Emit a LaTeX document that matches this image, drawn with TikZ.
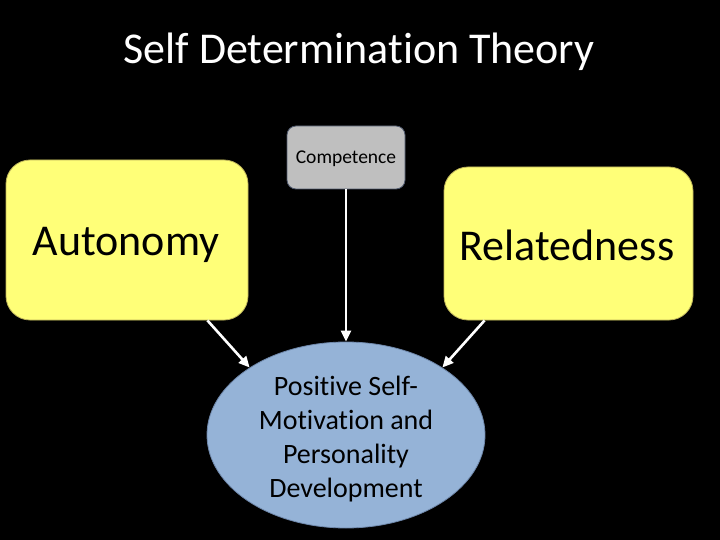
\documentclass[tikz,border=0pt]{standalone}
\usepackage{fontspec}
\setmainfont{Carlito}[Ligatures=NoCommon]
\usetikzlibrary{shapes.geometric,arrows.meta,calc}
\definecolor{boxyellow}{RGB}{255,255,120}
\definecolor{yellowedge}{RGB}{190,180,90}
\definecolor{boxgray}{RGB}{191,191,191}
\definecolor{grayedge}{RGB}{80,90,110}
\definecolor{ellblue}{RGB}{149,179,215}
\definecolor{blueedge}{RGB}{110,135,170}
\tikzset{
  bigbox/.style={draw=yellowedge, line width=0.8pt, fill=boxyellow, rounded corners=24pt, inner sep=0pt, text=black},
  bigtext/.style={font=\fontsize{44}{52}\selectfont, text=black, inner sep=0pt},
  smallbox/.style={draw=grayedge, line width=0.8pt, fill=boxgray, rounded corners=9pt, inner sep=0pt, font=\fontsize{19.5}{23}\selectfont, text=black},
  goal/.style={ellipse, draw=blueedge, line width=0.8pt, fill=ellblue, inner sep=0pt, minimum width=278pt, minimum height=186pt},
  goaltext/.style={align=center, font=\fontsize{28}{34}\selectfont, text=black, inner sep=0pt},
  arr/.style={draw=white, line width=2.6pt, -{Triangle[length=11pt,width=10pt]}},
  titletext/.style={text=white, font=\fontsize{44}{52}\selectfont}
}
\begin{document}
\begin{tikzpicture}[x=1pt,y=-1pt]
\fill[black] (0,0) rectangle (720,540);
\useasboundingbox (0,0) rectangle (720,540);
\node[titletext] (title) at (359,52) {Self Determination Theory};
\node[smallbox, minimum width=118pt, minimum height=63pt] (comp) at (346,157.5) {};
\node[font=\fontsize{19.5}{23}\selectfont, inner sep=0pt] (comptext) at (346,159) {Competence};
\node[bigbox, minimum width=242pt, minimum height=160pt] (auto) at (127,240) {};
\node[bigtext] (autotext) at (126,245) {Autonomy};
\node[bigbox, minimum width=249pt, minimum height=153pt] (rel) at (568.5,243.5) {};
\node[bigtext] (reltext) at (567,245) {Relatedness};
\node[goal] (ell) at (346,435) {};
\node[goaltext] (elltext) at (346,439) {Positive Self-\\Motivation and\\Personality\\Development};
\draw[arr] (comp.south) -- (ell.north);
\draw[arr] ($(auto.south east)+(-41,0)$) -- (ell.145);
\draw[arr] ($(rel.south west)+(41,0)$) -- (ell.35);
\end{tikzpicture}
\end{document}
